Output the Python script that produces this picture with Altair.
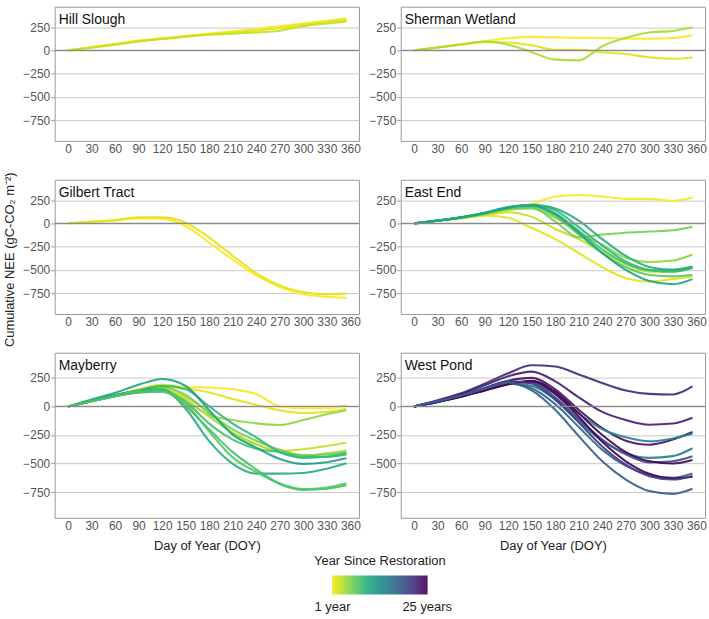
import altair as alt
import pandas as pd

FONT = "Liberation Sans"

# ---------------- data ----------------
DOY = [0, 30, 60, 90, 120, 150, 180, 210, 240, 270, 300, 330, 355]
X_TICKS = [0, 30, 60, 90, 120, 150, 180, 210, 240, 270, 300, 330, 360]
Y_TICKS = [-750, -500, -250, 0, 250]

HILL_YEARS = [1, 2, 3]
HILL = [
    [0, 35, 70, 105, 130, 155, 180, 205, 230, 260, 290, 318, 345],
    [0, 32, 65, 100, 125, 150, 172, 192, 212, 240, 275, 305, 330],
    [0, 28, 60, 95, 122, 148, 168, 180, 192, 212, 260, 290, 310],
]

SHERMAN_YEARS = [1, 2, 4]
SHERMAN = [
    [0, 30, 65, 100, 130, 145, 140, 135, 135, 125, 125, 133, 163],
    [0, 30, 60, 90, 85, 55, 5, 5, -20, -40, -75, -90, -76],
    [0, 32, 65, 95, 60, -20, -100, -108, 45, 135, 193, 210, 250],
]

GILBERT_YEARS = [1, 2]
GILBERT = [
    [0, 18, 32, 53, 50, -28, -206, -390, -560, -685, -763, -790, -800],
    [0, 18, 35, 65, 65, 7, -153, -348, -535, -667, -738, -763, -756],
]

EAST_YEARS = [1, 2, 3, 5, 6, 7, 8, 9, 10, 11]
EAST = [
    [0, 30, 55, 85, 140, 208, 289, 306, 289, 264, 264, 243, 278],
    [0, 28, 55, 85, 60, -50, -170, -320, -470, -590, -625, -600, -570],
    [0, 30, 58, 95, 120, 70, -60, -170, -310, -440, -520, -520, -475],
    [0, 30, 60, 100, 150, 160, 60, -100, -230, -370, -415, -400, -334],
    [0, 30, 60, 105, 155, 165, 20, -150, -120, -100, -88, -74, -35],
    [0, 30, 65, 110, 165, 180, 80, -120, -320, -470, -555, -570, -555],
    [0, 30, 65, 110, 170, 190, 110, -80, -280, -430, -505, -500, -465],
    [0, 30, 65, 115, 170, 195, 140, -40, -240, -410, -500, -520, -480],
    [0, 30, 65, 115, 175, 200, 160, 30, -170, -350, -470, -500, -470],
    [0, 30, 65, 110, 170, 195, 100, -100, -320, -500, -620, -655, -600],
]

MAYBERRY_YEARS = [1, 2, 5, 3, 4, 6, 8, 9, 11, 10, 7, 8]
MAYBERRY = [
    [0, 45, 95, 150, 190, 170, 165, 150, 108, 0, -14, -14, 9],
    [0, 45, 95, 150, 190, 160, 122, 65, 14, -34, -57, -48, -20],
    [0, 45, 90, 130, 150, 50, -77, -119, -148, -162, -119, -68, -34],
    [0, 45, 90, 135, 160, 80, -48, -233, -332, -389, -375, -346, -318],
    [0, 45, 90, 130, 140, 60, -90, -230, -330, -400, -430, -410, -385],
    [0, 45, 95, 140, 170, 100, -60, -200, -300, -380, -425, -420, -400],
    [0, 45, 90, 120, 130, 40, -150, -290, -370, -400, -440, -440, -420],
    [0, 50, 100, 140, 180, 150, 0, -150, -270, -400, -450, -440, -410],
    [0, 60, 120, 190, 240, 179, -34, -247, -361, -460, -503, -488, -454],
    [0, 50, 100, 140, 150, -20, -304, -503, -588, -588, -582, -545, -497],
    [0, 45, 90, 130, 130, 23, -219, -446, -574, -673, -724, -710, -673],
    [0, 45, 90, 125, 140, 0, -200, -400, -550, -680, -730, -720, -690],
]

WEST_YEARS = [22, 23, 24, 14, 15, 19, 25, 17, 25, 21, 18]
WEST = [
    [0, 55, 115, 200, 290, 360, 350, 280, 205, 140, 110, 105, 175],
    [0, 50, 110, 185, 265, 305, 220, 80, -48, -119, -160, -150, -99],
    [0, 45, 100, 160, 225, 250, 150, -30, -190, -300, -335, -290, -224],
    [0, 45, 95, 150, 200, 210, 110, -60, -200, -270, -305, -280, -240],
    [0, 40, 90, 150, 200, 180, 60, -130, -300, -410, -450, -435, -366],
    [0, 45, 95, 160, 215, 210, 80, -110, -290, -420, -490, -480, -437],
    [0, 40, 85, 140, 195, 225, 130, -60, -250, -400, -480, -500, -469],
    [0, 40, 90, 150, 200, 160, 20, -180, -380, -520, -600, -625, -588],
    [0, 40, 85, 140, 195, 220, 110, -90, -310, -480, -590, -630, -616],
    [0, 45, 95, 160, 220, 200, 60, -140, -350, -510, -610, -640, -608],
    [0, 45, 95, 155, 210, 140, -30, -260, -480, -640, -740, -765, -721],
]

SITES = {
    "Hill Slough": (HILL_YEARS, HILL),
    "Sherman Wetland": (SHERMAN_YEARS, SHERMAN),
    "Gilbert Tract": (GILBERT_YEARS, GILBERT),
    "East End": (EAST_YEARS, EAST),
    "Mayberry": (MAYBERRY_YEARS, MAYBERRY),
    "West Pond": (WEST_YEARS, WEST),
}

records = []
for site, (years, series) in SITES.items():
    for i, (yr, vals) in enumerate(zip(years, series)):
        for d, v in zip(DOY, vals):
            records.append({"site": site, "series": f"{site}-{i}", "year": yr, "doy": d, "nee": v})
df = pd.DataFrame(records)

# ---------------- chart ----------------
W = 306
H_TOP = 135
H_BOT = 166

color_scale = alt.Scale(scheme="viridis", reverse=True, domain=[0.9, 25.1])
legend = alt.Legend(
    title="Year Since Restoration",
    orient="none",
    direction="horizontal",
    legendX=261,
    legendY=551,
    gradientLength=96,
    gradientThickness=19,
    values=[1, 25],
    labelExpr="datum.value == 1 ? '1 year' : '25 years'",
    labelAlign="center",
    labelOffset=7,
    titleAnchor="middle",
    titlePadding=8,
)


def panel(site, height, xtitle=False, ytitle=False):
    data = df[df.site == site]
    if xtitle:
        xax = alt.Axis(values=X_TICKS, title="Day of Year (DOY)", ticks=False, grid=False,
                       domain=False, labelPadding=3, labelOverlap=False, labelFlush=False,
                       titlePadding=8)
    else:
        xax = alt.Axis(values=X_TICKS, title=None, ticks=False, grid=False, domain=False,
                       labelPadding=3, labelOverlap=False, labelFlush=False)
    if ytitle:
        yax = alt.Axis(values=Y_TICKS, title="Cumulative NEE (gC-CO\u2082 m\u207b\u00b2)",
                       grid=True, domain=False, tickSize=4, labelPadding=1,
                       labelOverlap=False, labelFlush=False, titleY=80, titlePadding=6)
    else:
        yax = alt.Axis(values=Y_TICKS, title=None, grid=True, domain=False, tickSize=4,
                       labelPadding=1, labelOverlap=False, labelFlush=False)

    x = alt.X("doy:Q", scale=alt.Scale(domain=[-17, 371], nice=False, zero=False), axis=xax)
    y = alt.Y("nee:Q", scale=alt.Scale(domain=[-975, 470], nice=False, zero=False), axis=yax)

    zero = alt.Chart(pd.DataFrame({"nee": [0]})).mark_rule(color="#8a8a8a", strokeWidth=1.2).encode(
        y=y
    )
    lines = alt.Chart(data).mark_line(strokeWidth=2.1, opacity=0.92, interpolate="monotone").encode(
        x=x,
        y=y,
        color=alt.Color("year:Q", scale=color_scale, legend=legend),
        detail="series:N",
        order="doy:Q",
    )
    label = alt.Chart(pd.DataFrame({"t": [site]})).mark_text(
        align="left", baseline="alphabetic", fontSize=14, font=FONT, color="#111"
    ).encode(x=alt.value(4), y=alt.value(17), text="t:N")
    return alt.layer(lines, zero, label).properties(width=W, height=height)


chart = alt.concat(
    panel("Hill Slough", H_TOP),
    panel("Sherman Wetland", H_TOP),
    panel("Gilbert Tract", H_TOP, ytitle=True),
    panel("East End", H_TOP),
    panel("Mayberry", H_BOT, xtitle=True),
    panel("West Pond", H_BOT, xtitle=True),
    columns=2,
    spacing={"row": 39, "column": 42},
    bounds="flush",
).properties(
    padding={"left": 3, "top": 4, "right": 2, "bottom": 2},
    background="white",
).configure_view(
    stroke="#9a9a9a", strokeWidth=1
).configure_axis(
    labelFont=FONT, labelFontSize=12, labelColor="#555555", labelOverlap=False,
    titleFont=FONT, titleFontSize=13, titleColor="#222222", titleFontWeight="normal",
    gridColor="#c8c8c8", gridWidth=1, tickColor="#9a9a9a",
).configure_legend(
    labelFont=FONT, labelFontSize=13, labelColor="#222222",
    titleFont=FONT, titleFontSize=13, titleColor="#222222", titleFontWeight="normal",
    gradientStrokeWidth=0,
)

chart.save("out.html", embed_options={"renderer": "svg", "actions": False})
